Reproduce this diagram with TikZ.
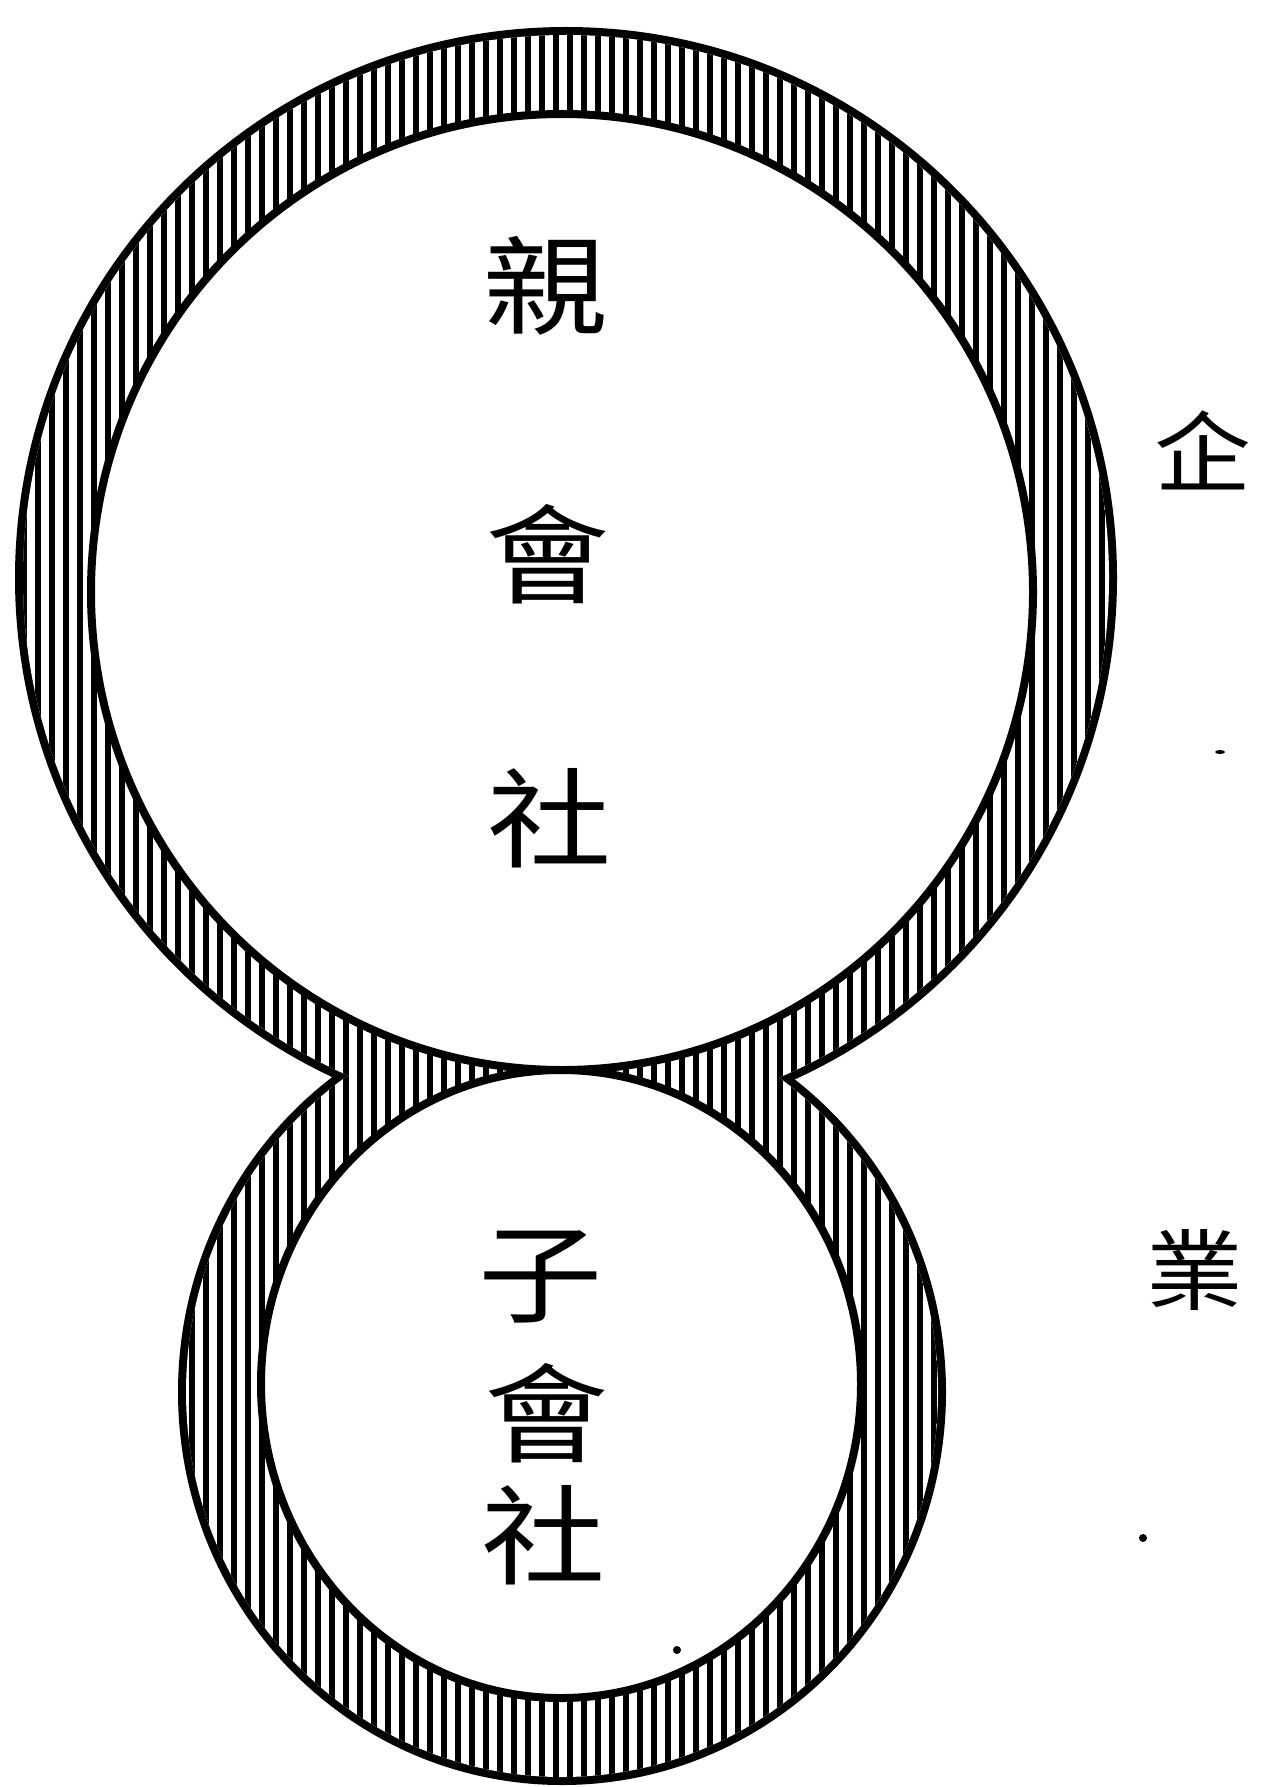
\documentclass[tikz,border=0pt]{standalone}
\usepackage{fontspec}
\newfontfamily\cjk{Noto Sans CJK TC}
\begin{document}
\begin{tikzpicture}[x=1pt,y=-1pt,
  outline/.style={line width=8pt},
  outerline/.style={line width=16pt},
  hatchline/.style={line width=5.5pt},
  lbl/.style={font=\cjk\fontsize{108}{108}\selectfont, xscale=1.15, inner sep=0pt},
  sidelbl/.style={font=\cjk\fontsize{88}{88}\selectfont, xscale=1.1, inner sep=0pt}]
\useasboundingbox[fill=white] (0,0) rectangle (1280,1787);
% outer outlines (inner half later covered)
\draw[outerline] (566,578) circle (543);
\draw[outerline] (562,1392) ellipse (376 and 385);
\fill[white] (566,578) circle (543) (562,1392) ellipse (376 and 385);
% hatching of the band
\begin{scope}
  \clip (566,578) circle (543) (562,1392) ellipse (376 and 385);
  \foreach \x in {10,24,...,1200} \draw[hatchline] (\x,0) -- (\x,1787);
\end{scope}
% inner discs
\filldraw[fill=white, outline] (562,592) ellipse (471 and 478);
\filldraw[fill=white, outline] (561,1384) ellipse (300 and 314);
% labels
\node[lbl] (p1) at (546,286) {親};
\node[lbl] (p2) at (548,554) {會};
\node[lbl] (p3) at (550,818) {社};
\node[lbl] (c1) at (541,1277) {子};
\node[lbl] (c2) at (547,1413) {會};
\node[lbl] (c3) at (544,1535) {社};
\node[sidelbl] (s1) at (1203,450) {企};
\node[sidelbl] (s2) at (1195,1270) {業};
% stray print marks
\fill (1220,752) ellipse (5 and 2);
\fill (1143,1538) circle (4);
\fill (677,1650) circle (4);
\end{tikzpicture}
\end{document}
